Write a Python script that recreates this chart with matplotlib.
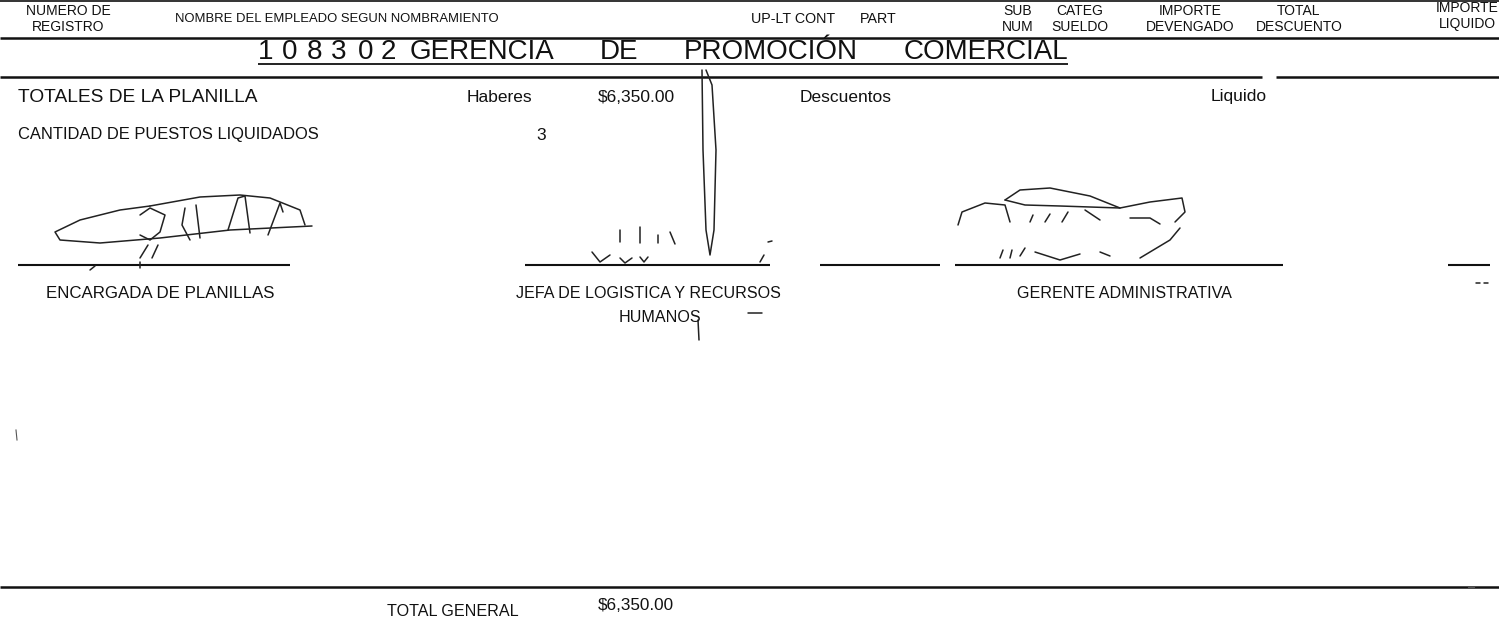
import matplotlib
matplotlib.use("Agg")
import matplotlib.pyplot as plt

W, H = 1499, 624
FONT = "Liberation Sans"
INK = "#111111"

# ---- content ----
header_single = [("NOMBRE DEL EMPLEADO SEGUN NOMBRAMIENTO", 175, 9.4),
                 ("UP-LT CONT", 751, 10.3),
                 ("PART", 860, 10.3)]
header_double = [("NUMERO DE", "REGISTRO", 68),
                 ("SUB", "NUM", 1018),
                 ("CATEG", "SUELDO", 1080),
                 ("IMPORTE", "DEVENGADO", 1190),
                 ("TOTAL", "DESCUENTO", 1299),
                 ("IMPORTE", "LIQUIDO", 1467)]
title_code = ["1", "0", "8", "3", "0", "2"]
title_code_x = [258, 282, 307, 331, 358, 381]
title_words = ["GERENCIA", "DE", "PROMOCIÓN", "COMERCIAL"]
totals_labels = ["TOTALES DE LA PLANILLA", "Haberes", "$6,350.00", "Descuentos", "Liquido"]
count_label = "CANTIDAD DE PUESTOS LIQUIDADOS"
count_value = "3"
signers = ["ENCARGADA DE PLANILLAS", "JEFA DE LOGISTICA Y RECURSOS", "HUMANOS",
           "GERENTE ADMINISTRATIVA"]
grand_label = "TOTAL GENERAL"
grand_value = "$6,350.00"

# rough handwritten signature strokes (x, y pixel-space)
sig_left = [
    [(150, 206), (120, 210), (80, 220), (55, 232), (60, 240), (100, 243), (160, 238), (230, 230), (312, 226)],
    [(150, 206), (200, 197), (240, 195), (270, 198), (300, 210), (305, 225)],
    [(140, 215), (150, 208), (165, 215), (160, 232), (150, 240), (140, 235)],
    [(185, 208), (182, 225), (190, 240)],
    [(196, 205), (200, 238)],
    [(228, 230), (238, 198), (245, 196), (250, 233)],
    [(268, 235), (280, 203), (283, 212)],
    [(148, 245), (140, 258)], [(158, 245), (152, 258)],
    [(90, 270), (95, 266)], [(140, 262), (140, 268)],
]
sig_mid = [
    [(702, 70), (703, 150), (706, 230), (710, 255), (714, 230), (716, 150), (712, 85), (706, 70)],
    [(592, 252), (600, 262), (610, 255)], [(620, 258), (625, 263), (632, 258)],
    [(640, 257), (644, 262), (648, 257)],
    [(620, 230), (620, 242)], [(640, 227), (640, 243)], [(658, 235), (658, 243)],
    [(670, 232), (675, 244)], [(768, 242), (772, 241)], [(760, 262), (764, 255)],
    [(698, 320), (699, 340)], [(748, 313), (762, 313)],
]
sig_right = [
    [(958, 225), (962, 212), (985, 203), (1005, 205), (1010, 222)],
    [(1005, 200), (1020, 190), (1050, 188), (1090, 196), (1120, 208), (1150, 202), (1182, 198), (1185, 212), (1175, 222)],
    [(1005, 200), (1025, 205), (1060, 206), (1120, 208)],
    [(1030, 222), (1033, 215)], [(1045, 222), (1050, 214)], [(1062, 222), (1068, 212)],
    [(1085, 210), (1100, 220)], [(1130, 218), (1150, 218), (1160, 224)],
    [(1000, 258), (1003, 250)], [(1010, 258), (1012, 250)], [(1020, 256), (1025, 248)],
    [(1035, 252), (1060, 260), (1080, 254)], [(1100, 252), (1110, 256)],
    [(1140, 258), (1170, 240), (1180, 228)],
    [(1476, 283), (1480, 283)], [(1484, 283), (1488, 283)],
]

# ---- figure ----
fig = plt.figure(figsize=(W / 100, H / 100), dpi=100)
ax = fig.add_axes([0, 0, 1, 1])
ax.set_xlim(0, W)
ax.set_ylim(H, 0)
ax.axis("off")


def txt(x, y, s, size, ha="left", **kw):
    return ax.text(x, y, s, fontsize=size, ha=ha, va="center", family=FONT,
                   color=INK, **kw)


def hline(y, x0, x1, lw=1.6):
    ax.plot([x0, x1], [y, y], color=INK, lw=lw, solid_capstyle="butt")


# header
hline(1, 0, W, lw=1.2)
for s, x, size in header_single:
    txt(x, 19, s, size)
for top, bot, x in header_double:
    y0 = 8 if x > 1400 else 11
    txt(x, y0, top, 10.0, ha="center")
    txt(x, y0 + 16, bot, 10.0, ha="center")
hline(38, 0, W, lw=1.8)

# section title: words spread over the underline span
TITLE_SIZE = 20
TITLE_Y = 52
for ch, x in zip(title_code, title_code_x):
    txt(x, TITLE_Y, ch, TITLE_SIZE)
fig.canvas.draw()
renderer = fig.canvas.get_renderer()
span0, span1 = 410, 1068
objs = [txt(0, TITLE_Y, w, TITLE_SIZE) for w in title_words]
inv = ax.transData.inverted()
widths = []
for o in objs:
    bb = o.get_window_extent(renderer)
    (xa, _), (xb, _) = inv.transform([(bb.x0, bb.y0), (bb.x1, bb.y0)])
    widths.append(xb - xa)
gap = (span1 - span0 - sum(widths)) / (len(objs) - 1)
xcur = span0
for o, w in zip(objs, widths):
    o.set_x(xcur)
    xcur += w + gap
hline(64, 258, 1068, lw=1.3)
hline(77, 0, 1262, lw=1.8)
hline(77, 1276, W, lw=1.8)

# totals
txt(18, 97, totals_labels[0], 13.8)
txt(467, 97, totals_labels[1], 12.5)
txt(598, 97, totals_labels[2], 12.5)
txt(800, 97, totals_labels[3], 12.5)
txt(1211, 97, totals_labels[4], 12.5)
txt(18, 135, count_label, 11.9)
txt(536, 135, count_value, 12.5)

# signature lines
for x0, x1 in [(18, 290), (525, 770), (820, 940), (955, 1283), (1448, 1490)]:
    hline(265, x0, x1, lw=1.5)

for group in (sig_left, sig_mid, sig_right):
    for stroke in group:
        xs, ys = zip(*stroke)
        ax.plot(xs, ys, color="#222222", lw=1.1, solid_capstyle="round")

txt(160, 293, signers[0], 12.2, ha="center")
txt(648, 293, signers[1], 11.6, ha="center")
txt(660, 318, signers[2], 11.6, ha="center")
txt(1124, 293, signers[3], 11.6, ha="center")

ax.plot([16, 17], [430, 440], color="#555555", lw=0.8)

# bottom
hline(587, 0, W, lw=1.8)
txt(453, 611, grand_label, 11.6, ha="center")
txt(598, 605, grand_value, 12.3)
ax.plot([1468, 1474], [587, 587], color="#555555", lw=0.8)

fig.savefig("out.png", dpi=100, facecolor="white")
